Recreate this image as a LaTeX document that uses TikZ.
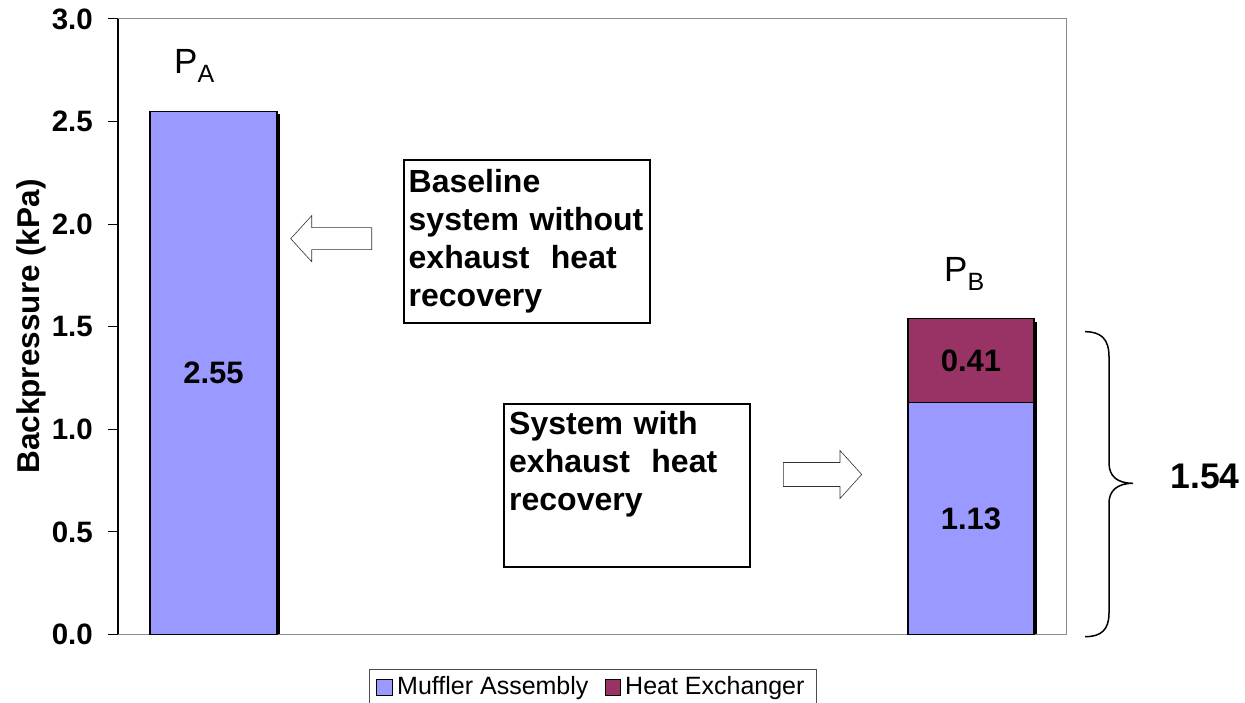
\documentclass[tikz,border=0pt]{standalone}
\usepackage{fontspec}
\setmainfont{Liberation Sans}
\usepackage{tikz}

\definecolor{muffler}{RGB}{153,153,255}
\definecolor{heatex}{RGB}{153,51,102}
\definecolor{axisgray}{RGB}{140,140,140}

\tikzset{
  bar/.style={draw=black, line width=1.2pt},
  vallabel/.style={font=\fontsize{31}{31}\selectfont\bfseries, inner sep=0pt},
  ticklabel/.style={font=\fontsize{29.5}{30}\selectfont\bfseries, anchor=east, inner sep=0pt},
  notebox/.style={draw, line width=2pt, align=left, text width=236pt, minimum height=163pt,
    inner xsep=5pt, font=\fontsize{32}{38}\selectfont\bfseries},
  blockarrow/.style={draw=black!80, line width=0.6pt, fill=white},
  legendtext/.style={font=\fontsize{25}{25}\selectfont, anchor=base west, inner sep=0pt},
  plabel/.style={font=\fontsize{35}{35}\selectfont, anchor=base west, inner sep=0pt}
}

\begin{document}
\begin{tikzpicture}[x=1pt,y=1pt]
  \useasboundingbox (0,0) rectangle (1245,703);

  % chart, x in px from the axis, y in kPa
  \begin{scope}[shift={(118,68.5)},y=205.2pt]
    \draw[axisgray, line width=1pt] (-10,0) -- (948,0) -- (948,3) -- (-10,3);
    \foreach \v/\t [count=\i] in {0/0.0,0.5/0.5,1/1.0,1.5/1.5,2/2.0,2.5/2.5,3/3.0}
    {
      \draw[line width=1pt] (-10,\v) -- (0,\v);
      \node[ticklabel] (tick\i) at (-25,\v) {\t};
    }

    % bar A
    \fill[black] (35,0) rectangle (162,2.535);
    \filldraw[bar, fill=muffler] (32,0) rectangle (159,2.55);
    % bar B
    \fill[black] (793,0) rectangle (919,1.525);
    \filldraw[bar, fill=muffler] (790,0) rectangle (916,1.13);
    \filldraw[bar, fill=heatex] (790,1.13) rectangle (916,1.54);

    \draw[black, line width=1.2pt] (0,0) -- (0,3);

    \node[vallabel] (valA) at (95.5,1.275) {2.55};
    \node[vallabel] (valB1) at (853,0.565) {1.13};
    \node[vallabel] (valB2) at (853,1.335) {0.41};
  \end{scope}

  \node[rotate=90, font=\fontsize{31.5}{32}\selectfont\bfseries, inner sep=0pt] (ylabel) at (31,376.5) {Backpressure (kPa)};

  \node[plabel] (pa) at (174,629) {P\raisebox{-8.7pt}{\fontsize{25}{25}\selectfont A}};
  \node[plabel] (pb) at (944,421.3) {P\raisebox{-8.7pt}{\fontsize{25}{25}\selectfont B}};

  % text boxes and block arrows
  \node[notebox] (baseline) at (526.7,461.7) {Baseline\\system without\\exhaust\ \ heat\\recovery};
  \node[notebox] (withehr) at (627.2,217.2) {System with\\exhaust\ \ heat\\recovery\\\strut};

  \filldraw[blockarrow] (290.7,464.3) -- (311.7,487.3) -- (311.7,475.3) -- (371.7,475.3)
    -- (371.7,453.3) -- (311.7,453.3) -- (311.7,441.3) -- cycle;
  \filldraw[blockarrow] (861.7,228.5) -- (840,252.5) -- (840,240.5) -- (783.3,240.5)
    -- (783.3,216.5) -- (840,216.5) -- (840,204.5) -- cycle;

  % brace and total
  \draw[line width=1.5pt] (1085,371.3) .. controls (1101,371.3) and (1109,364) .. (1109,346.3)
    -- (1109,240) .. controls (1109,227) and (1117,219.7) .. (1133,219.7)
    .. controls (1117,219.7) and (1109,212) .. (1109,200)
    -- (1109,90) .. controls (1109,73) and (1101,66.3) .. (1085,66.3);
  \node[font=\fontsize{35.6}{36}\selectfont\bfseries, inner sep=0pt] (total) at (1205,226.3) {1.54};

  % legend
  \draw[black!70, line width=0.8pt] (369.3,0) |- (816,33.7) -- (816,0);
  \filldraw[fill=muffler, line width=1pt] (376,7) rectangle (392.7,23);
  \node[legendtext] (legA) at (397,8) {Muffler Assembly};
  \filldraw[fill=heatex, line width=1pt] (605,7) rectangle (620.7,23);
  \node[legendtext] (legB) at (625,8) {Heat Exchanger};
\end{tikzpicture}
\end{document}
